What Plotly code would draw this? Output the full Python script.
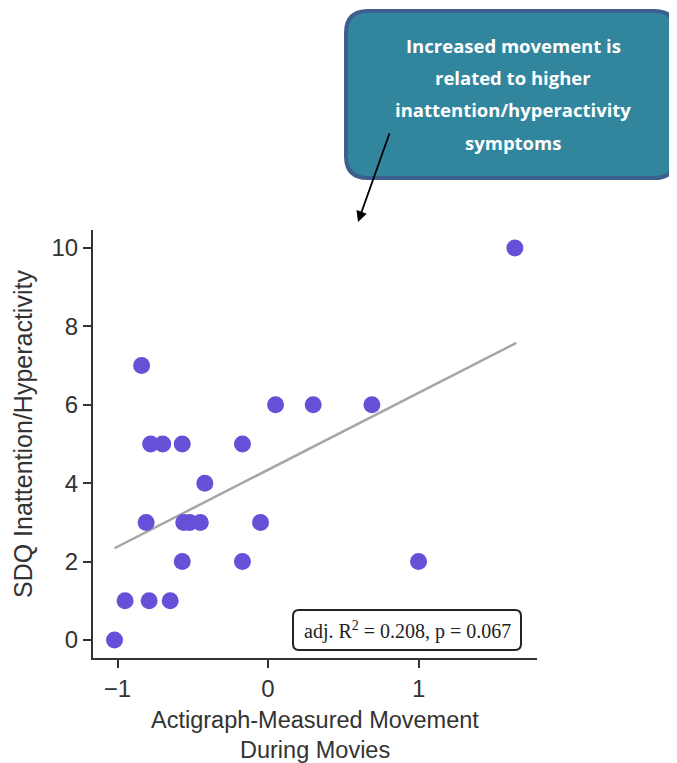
import plotly.graph_objects as go

# Data
movement = [1.64, -0.84, 0.05, 0.30, 0.69, -0.78, -0.70, -0.57, -0.17, -0.42,
            -0.81, -0.56, -0.52, -0.45, -0.05, -0.57, -0.17, 1.00, -0.95, -0.79,
            -0.65, -1.02]
sdq = [10, 7, 6, 6, 6, 5, 5, 5, 5, 4,
       3, 3, 3, 3, 3, 2, 2, 2, 1, 1,
       1, 0]
fit_x = [-1.02, 1.65]
fit_y = [2.34, 7.58]
x_ticks = [-1, 0, 1]
x_tick_labels = ["\u22121", "0", "1"]
y_ticks = [0, 2, 4, 6, 8, 10]
x_title_lines = ["Actigraph-Measured Movement", "During Movies"]
y_title = "SDQ Inattention/Hyperactivity"
stat_text = "adj. R<sup>2</sup> = 0.208, p = 0.067"
callout_lines = ["Increased movement is", "related to higher",
                 "inattention/hyperactivity", "symptoms"]

OFF = 8  # page body margin
W, H = 669, 755
L, T = 93 - OFF, 230 - OFF
B = H - (658 - OFF)
R = W - (537 - OFF)
PW, PH = W - L - R, H - T - B


def px(x):
    return (x - OFF - L) / PW


def py(y):
    return (H - B - (y - OFF)) / PH


def rounded_path(x0, y0, x1, y1, r):
    X = lambda v: f"{px(v):.5f}"
    Y = lambda v: f"{py(v):.5f}"
    return (f"M {X(x0 + r)},{Y(y0)} L {X(x1 - r)},{Y(y0)} "
            f"Q {X(x1)},{Y(y0)} {X(x1)},{Y(y0 + r)} L {X(x1)},{Y(y1 - r)} "
            f"Q {X(x1)},{Y(y1)} {X(x1 - r)},{Y(y1)} L {X(x0 + r)},{Y(y1)} "
            f"Q {X(x0)},{Y(y1)} {X(x0)},{Y(y1 - r)} L {X(x0)},{Y(y0 + r)} "
            f"Q {X(x0)},{Y(y0)} {X(x0 + r)},{Y(y0)} Z")


fig = go.Figure()
fig.add_trace(go.Scatter(x=fit_x, y=fit_y, mode="lines",
                         line=dict(color="#a6a6a6", width=2.5),
                         hoverinfo="skip", showlegend=False))
fig.add_trace(go.Scatter(x=movement, y=sdq, mode="markers",
                         marker=dict(size=17, color="#6650D8"),
                         showlegend=False))

tick_font = dict(family="Liberation Sans, Arial, sans-serif", size=24, color="#333333")
title_font = dict(family="Liberation Sans, Arial, sans-serif", size=25, color="#333333")
xtitle_font = dict(family="Liberation Sans, Arial, sans-serif", size=23.5, color="#333333")
fig.update_xaxes(range=[-1.163, 1.787], tickvals=x_ticks, ticktext=x_tick_labels,
                 showgrid=False, zeroline=False, showline=True, linecolor="#333333",
                 linewidth=2, ticks="outside", ticklen=8, tickwidth=2,
                 tickcolor="#333333", tickfont=tick_font, automargin=False)
fig.update_yaxes(range=[-0.46, 10.46], tickvals=y_ticks,
                 showgrid=False, zeroline=False, showline=True, linecolor="#333333",
                 linewidth=2, ticks="outside", ticklen=8, tickwidth=2,
                 tickcolor="#333333", tickfont=tick_font, automargin=False)

shapes = [
    dict(type="path", xref="paper", yref="paper", layer="below",
         path=rounded_path(293, 610, 521, 650, 6),
         line=dict(color="#222222", width=2), fillcolor="white"),
    dict(type="path", xref="paper", yref="paper", layer="below",
         path=rounded_path(346, 11, 676, 178, 22),
         line=dict(color="#3d5f8e", width=4), fillcolor="#31869d"),
]

annotations = [
    dict(x=px(407), y=py(630), xref="paper", yref="paper", text=stat_text,
         xanchor="center", yanchor="middle",
         showarrow=False, font=dict(family="Liberation Serif, Times New Roman, serif",
                                    size=20, color="#222222")),
    dict(x=px(23), y=py(434), xref="paper", yref="paper", text=y_title,
         textangle=-90, xanchor="center", yanchor="middle", showarrow=False,
         font=title_font),
    dict(x=px(358), y=py(222), xref="paper", yref="paper", text="",
         showarrow=True, arrowhead=2, arrowsize=1.2, arrowwidth=1.8,
         arrowcolor="black", ax=32, ay=-90, axref="pixel", ayref="pixel"),
]
for line, yc in zip(x_title_lines, [720, 750]):
    annotations.append(dict(x=px(315), y=py(yc), xref="paper", yref="paper",
                            text=line, xanchor="center", yanchor="middle",
                            showarrow=False, font=xtitle_font))
for line, yc in zip(callout_lines, [46, 78, 110, 142]):
    annotations.append(dict(x=px(513), y=py(yc), xref="paper", yref="paper",
                            text=line, xanchor="center", yanchor="middle",
                            showarrow=False,
                            font=dict(family="Open Sans, sans-serif", size=18.5,
                                      color="white", weight="bold")))

fig.update_layout(width=W, height=H, margin=dict(l=L, r=R, t=T, b=B, autoexpand=False),
                  plot_bgcolor="white", paper_bgcolor="white",
                  shapes=shapes, annotations=annotations, showlegend=False)

fig.write_html("out.html")
